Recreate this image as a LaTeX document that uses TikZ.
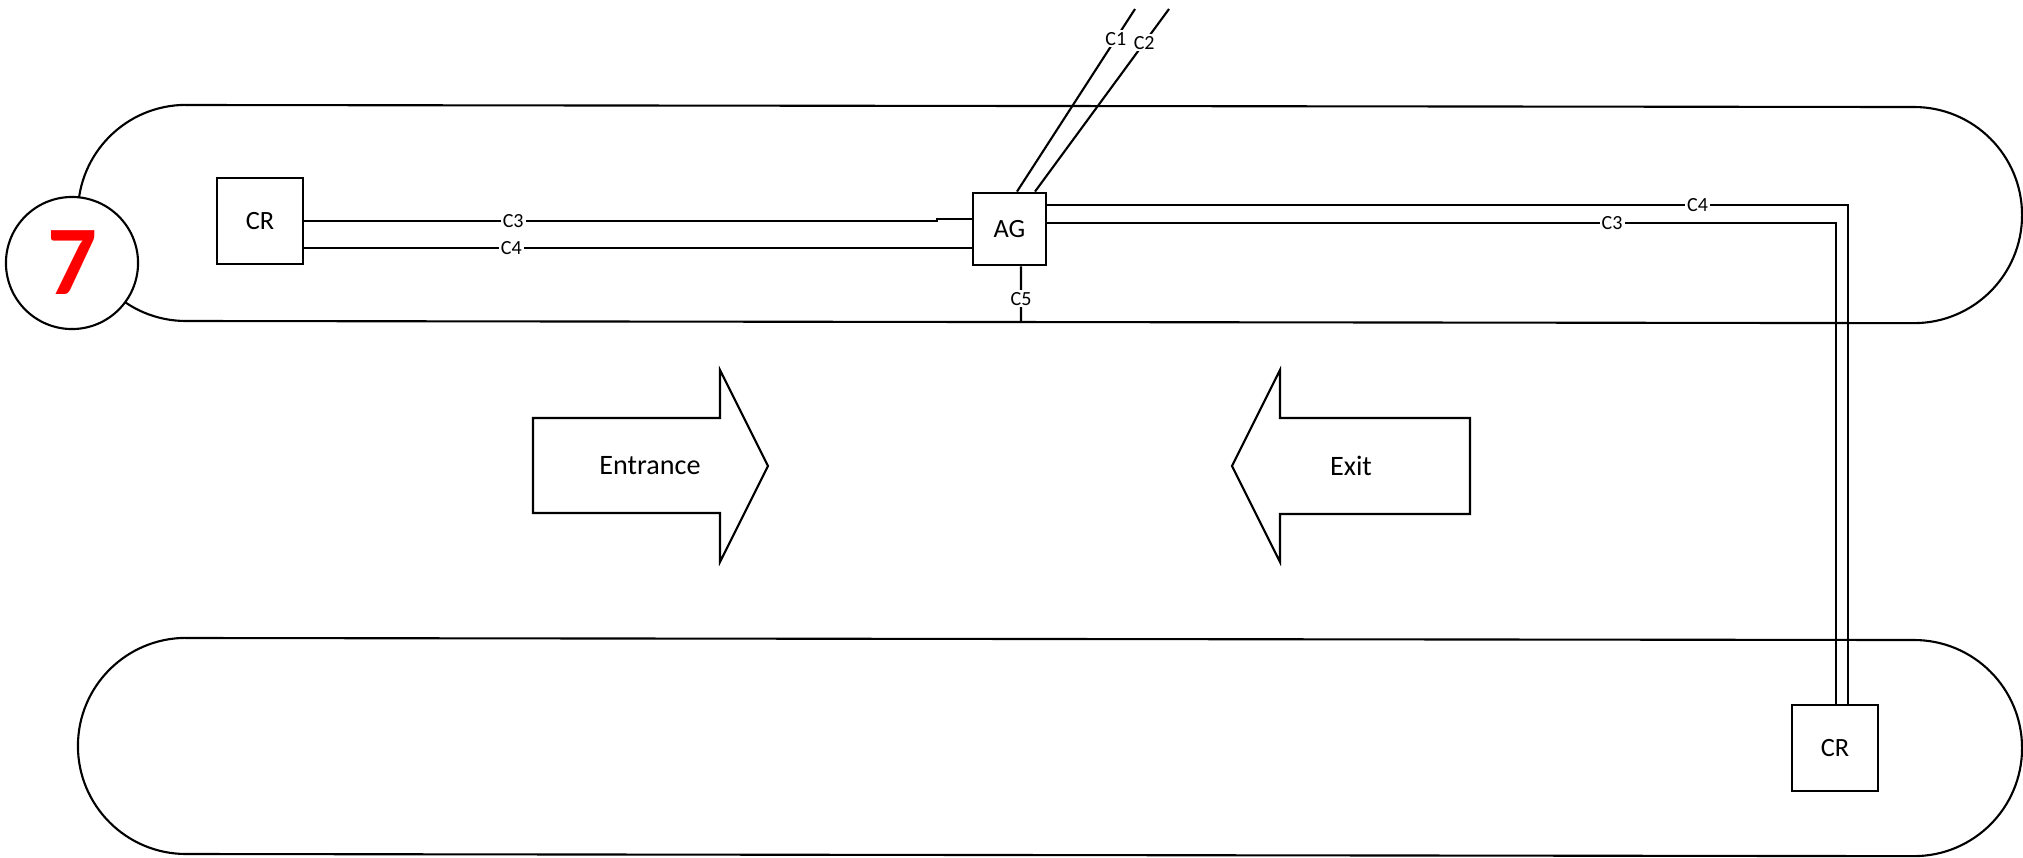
\documentclass[tikz,border=0pt]{standalone}
\usepackage{fontspec}
\setmainfont{Carlito}
\usepackage{tikz}
\usetikzlibrary{arrows.meta,positioning,calc}

\begin{document}
\begin{tikzpicture}[
    x=0.01cm,y=-0.01cm,
    track/.style={line width=0.6pt},
    unit/.style={draw,line width=0.8pt,minimum width=0.86cm,minimum height=0.86cm,inner sep=0pt,font=\fontsize{7.5}{9}\selectfont},
    cable/.style={line width=0.6pt},
    tag/.style={fill=white,inner sep=0.6pt,font=\fontsize{5.7}{6}\selectfont},
    flow/.style={draw,line width=0.6pt,line join=miter},
    flowtext/.style={font=\fontsize{8}{9}\selectfont},
    >=Latex
  ]
    \useasboundingbox (0,0) rectangle (2023,857);

    % the two lanes
    \draw[track] (186,105) -- (1914,107) arc[start angle=90,end angle=-90,radius=1.08cm]
      -- (186,321) arc[start angle=270,end angle=90,radius=1.08cm] -- cycle;
    \draw[track] (186,638) -- (1914,640) arc[start angle=90,end angle=-90,radius=1.08cm]
      -- (186,854) arc[start angle=270,end angle=90,radius=1.08cm] -- cycle;

    \node[draw,circle,fill=white,line width=0.6pt,minimum size=1.32cm,inner sep=0pt,text=red,
      font=\fontsize{28}{28}\selectfont\bfseries] (seven) at (72,263) {7};

    \node[unit] (crA) at (260,221) {CR};
    \node[unit,minimum width=0.73cm,minimum height=0.72cm] (ag) at (1009.5,229) {AG};
    \node[unit] (crB) at (1835,748) {CR};

    \draw[cable] (crA.east) -- node[tag,pos=0.33]{C3} (937,221) -- (937,219) -- (ag.west |- 0,219);
    \draw[cable] ([yshift=-0.27cm]crA.east) -- node[tag,pos=0.31]{C4} ([yshift=-0.27cm]crA.east -| ag.west);
    \draw[cable] ([yshift=0.24cm]ag.east) -| node[tag,pos=0.406]{C4} ([xshift=0.13cm]crB.north);
    \draw[cable] ([yshift=0.06cm]ag.east) -| node[tag,pos=0.358]{C3} ([xshift=0.01cm]crB.north);

    \coordinate (c1end) at (1135,9);
    \coordinate (c2end) at (1169,9);
    \coordinate (c5end) at (1021,322);
    \draw[cable] ([xshift=0.075cm]ag.north) -- node[tag,pos=0.837]{C1} (c1end);
    \draw[cable] ([xshift=0.255cm]ag.north) -- node[tag,pos=0.815]{C2} (c2end);
    \draw[cable] ([xshift=0.115cm]ag.south) -- node[tag,pos=0.58]{C5} (c5end);

    % entrance / exit
    \draw[flow] (533,418) -- (720,418) -- (720,370) -- (768,466) -- (720,562) -- (720,513) -- (533,513) -- cycle;
    \node[flowtext] (entrance) at (650,466) {Entrance};
    \draw[flow] (1470,418) -- (1280,418) -- (1280,370) -- (1232,466) -- (1280,562) -- (1280,514) -- (1470,514) -- cycle;
    \node[flowtext] (exit) at (1351,466) {Exit};
\end{tikzpicture}
\end{document}
